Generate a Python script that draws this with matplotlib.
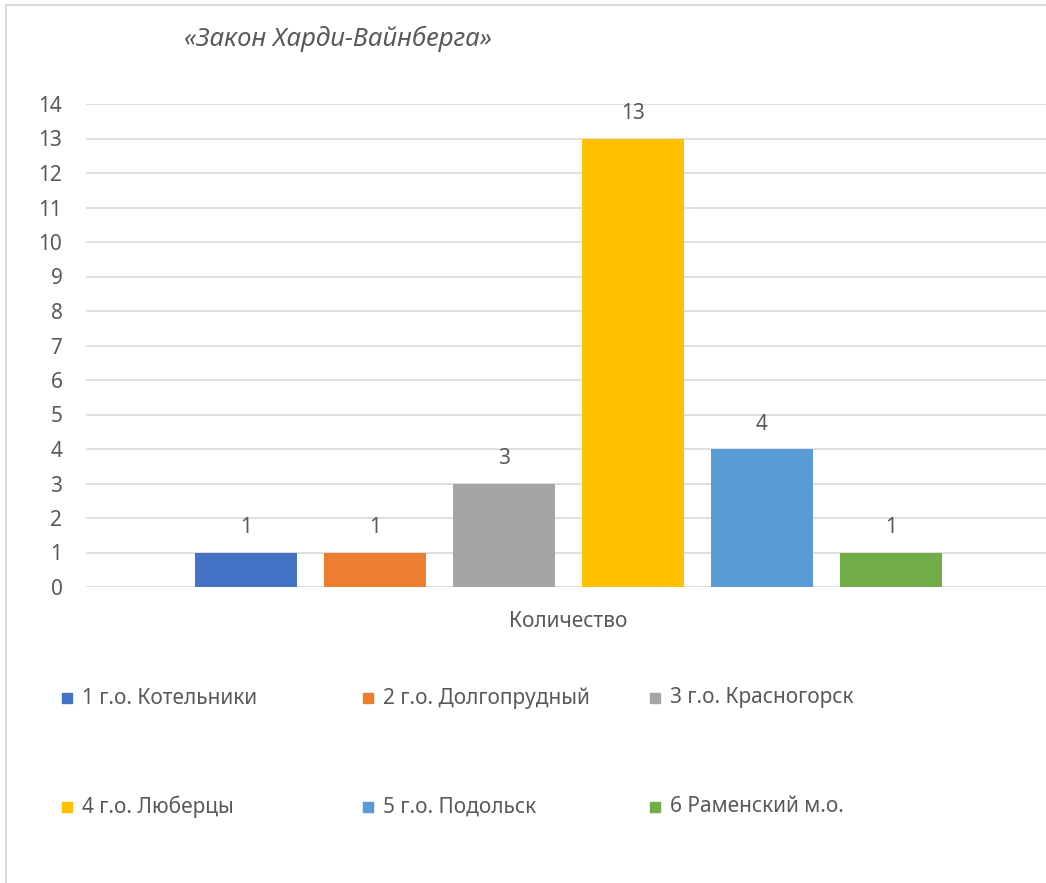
import matplotlib
matplotlib.use("Agg")
import matplotlib.pyplot as plt
from matplotlib.patches import Rectangle

plt.rcParams["font.family"] = ["Noto Sans", "DejaVu Sans"]

title = "«Закон Харди-Вайнберга»"
category = "Количество"
series = ["1 г.о. Котельники", "2 г.о. Долгопрудный", "3 г.о. Красногорск",
          "4 г.о. Люберцы", "5 г.о. Подольск", "6 Раменский м.о."]
values = [1, 1, 3, 13, 4, 1]
colors = ["#4472C4", "#ED7D31", "#A5A5A5", "#FFC000", "#5B9BD5", "#70AD47"]
yticks = list(range(0, 15))

TXT = "#595959"
GRID = "#D9D9D9"
FS = 15

fig = plt.figure(figsize=(10.46, 8.83), dpi=100)
# chart area border (only left and top edges are visible in the crop)
fig.patches.append(Rectangle((6 / 1046, -0.1), 1.2, 1 - 5 / 883 + 0.1,
                             transform=fig.transFigure, fill=False,
                             edgecolor=GRID, lw=1.5))

ax = fig.add_axes([86 / 1046, 1 - 587 / 883, (1051 - 86) / 1046, (587 - 104) / 883])
xs = list(range(len(values)))
bars = ax.bar(xs, values, width=0.79, color=colors, zorder=3)
for b, v in zip(bars, values):
    ax.annotate(str(v), (b.get_x() + b.get_width() / 2, v), xytext=(0, 18),
                textcoords="offset points", ha="center", va="center",
                fontsize=FS, color=TXT)

ax.set_xlim(-1.24, 6.24)
ax.set_ylim(0, 14)
ax.set_yticks(yticks)
ax.yaxis.grid(True, color=GRID, lw=1.2)
ax.set_axisbelow(True)
ax.set_xticks([2.5])
ax.set_xticklabels([category])
ax.tick_params(axis="y", length=0, pad=17, labelsize=FS, labelcolor=TXT)
ax.tick_params(axis="x", length=0, pad=17, labelsize=FS, labelcolor=TXT)
for s in ax.spines.values():
    s.set_visible(False)

fig.text(184 / 1046, 1 - 39 / 883, title, fontsize=18.5, style="italic",
         color=TXT, ha="left", va="center")

# legend: 3 columns, 2 rows
col_x = [62, 363, 650]
row_y = [698, 807]
for i, (lab, c) in enumerate(zip(series, colors)):
    x = col_x[i % 3]
    y = row_y[i // 3]
    fig.patches.append(Rectangle((x / 1046, 1 - (y + 5) / 883), 10 / 1046, 10 / 883,
                                 transform=fig.transFigure, color=c))
    fig.text((x + 20) / 1046, 1 - y / 883, lab, fontsize=FS, color=TXT,
             ha="left", va="center")

fig.savefig("out.png", dpi=100)
